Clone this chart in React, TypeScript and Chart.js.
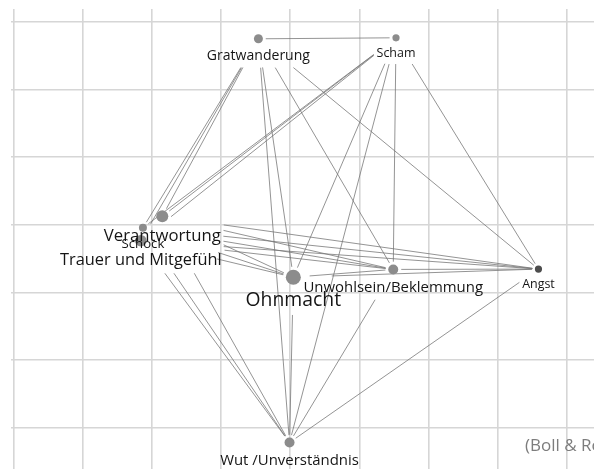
import React, { useEffect, useRef } from "react";
import { Chart, registerables } from "chart.js";

Chart.register(...registerables);

// Nodes (network coordinates in grid units)
const nodeLabels = [
  "Gratwanderung",
  "Scham",
  "Verantwortung",
  "Schock",
  "Trauer und Mitgefühl",
  "Ohnmacht",
  "Unwohlsein/Beklemmung",
  "Angst",
  "Wut /Unverständnis",
];
const nodeX = [3.54, 5.53, 2.15, 1.87, 1.84, 4.045, 5.49, 7.59, 3.99];
const nodeY = [0.25, 0.235, 2.875, 3.045, 3.235, 3.775, 3.66, 3.655, 6.22];
const nodeWeight = [4.5, 3.6, 6, 4, 5.8, 7.5, 5, 3.6, 5];

// Edges (index pairs)
const edgeFrom = [0, 0, 0, 0, 0, 0, 0, 0, 1, 1, 1, 1, 1, 1, 1, 2, 2, 2, 3, 3, 3, 4, 4, 4, 2, 3, 4, 5, 5, 5, 6, 6, 7];
const edgeTo =   [1, 2, 3, 4, 5, 8, 6, 7, 2, 3, 4, 5, 8, 6, 7, 5, 6, 7, 5, 6, 7, 5, 6, 7, 8, 8, 8, 6, 7, 8, 7, 8, 8];

const gridTicks = [0, 1, 2, 3, 4, 5, 6, 7, 8];
const sourceNote = "(Boll & Rothland)";

const FONT = "'Open Sans', 'Noto Sans', sans-serif";
const NODE_COLOR = "#8c8c8c";
const DARK_NODE = "#4d4d4d";
const LABEL_GAP = 6;

function fontSizeOf(i: number) {
  return 1.77 * nodeWeight[i] + 6.1;
}

const networkPlugin = {
  id: "network",
  beforeDatasetsDraw(chart: any) {
    const ctx: CanvasRenderingContext2D = chart.ctx;
    const xs = chart.scales.x;
    const ys = chart.scales.y;
    const shapes = nodeLabels.map((lab, i) => {
      const px = xs.getPixelForValue(nodeX[i]);
      const py = ys.getPixelForValue(nodeY[i]);
      const r = nodeWeight[i];
      const fs = fontSizeOf(i);
      ctx.font = `${fs}px ${FONT}`;
      const w = ctx.measureText(lab).width;
      const cy = py + r + fs / 2 + LABEL_GAP;
      return {
        px, py, r,
        x0: px - w / 2 - 3, x1: px + w / 2 + 3,
        y0: cy - fs * 0.6 - 3, y1: cy + fs * 0.6 + 3,
      };
    });
    const inside = (k: number, x: number, y: number) => {
      const s = shapes[k];
      const dx = x - s.px, dy = y - s.py;
      if (dx * dx + dy * dy <= (s.r + 3) * (s.r + 3)) return true;
      return x >= s.x0 && x <= s.x1 && y >= s.y0 && y <= s.y1;
    };
    const insideAny = (x: number, y: number) => {
      for (let k = 0; k < shapes.length; k++) if (inside(k, x, y)) return true;
      return false;
    };
    ctx.save();
    ctx.strokeStyle = "rgba(115,115,115,0.85)";
    ctx.lineWidth = 0.9;
    const N = 600;
    for (let e = 0; e < edgeFrom.length; e++) {
      const a = shapes[edgeFrom[e]], b = shapes[edgeTo[e]];
      const pt = (k: number) => [a.px + (b.px - a.px) * (k / N), a.py + (b.py - a.py) * (k / N)];
      let ks = 0;
      for (let k = 0; k <= N / 2; k++) {
        const [x, y] = pt(k);
        if (inside(edgeFrom[e], x, y)) ks = k;
      }
      while (ks < N / 2) {
        const [x, y] = pt(ks + 1);
        if (insideAny(x, y)) ks++; else break;
      }
      let ke = N;
      for (let k = N; k >= N / 2; k--) {
        const [x, y] = pt(k);
        if (inside(edgeTo[e], x, y)) ke = k;
      }
      while (ke > N / 2) {
        const [x, y] = pt(ke - 1);
        if (insideAny(x, y)) ke--; else break;
      }
      const [x0, y0] = pt(ks);
      const [x1, y1] = pt(ke);
      ctx.beginPath();
      ctx.moveTo(x0, y0);
      ctx.lineTo(x1, y1);
      ctx.stroke();
    }
    ctx.restore();
  },
  afterDatasetsDraw(chart: any) {
    const ctx: CanvasRenderingContext2D = chart.ctx;
    const meta = chart.getDatasetMeta(0);
    ctx.save();
    ctx.fillStyle = "#151515";
    ctx.textAlign = "center";
    ctx.textBaseline = "middle";
    nodeLabels.forEach((lab, i) => {
      const el = meta.data[i];
      const fs = fontSizeOf(i);
      ctx.font = `${fs}px ${FONT}`;
      ctx.fillText(lab, el.x, el.y + nodeWeight[i] + fs / 2 + LABEL_GAP);
    });
    ctx.fillStyle = "#7d7d7d";
    ctx.textAlign = "left";
    ctx.font = `17px ${FONT}`;
    ctx.fillText(sourceNote, 525, 446);
    ctx.restore();
  },
};

export default function App() {
  const ref = useRef<HTMLCanvasElement | null>(null);
  useEffect(() => {
    if (!ref.current) return;
    const setTicks = (s: any) => {
      s.ticks = gridTicks.map((v) => ({ value: v }));
    };
    const chart = new Chart(ref.current, {
      type: "scatter",
      data: {
        datasets: [
          {
            data: nodeX.map((x, i) => ({ x, y: nodeY[i] })),
            pointRadius: nodeWeight,
            pointHoverRadius: nodeWeight,
            pointBackgroundColor: nodeLabels.map((_, i) => (i === 7 ? DARK_NODE : NODE_COLOR)),
            pointBorderWidth: 0,
            showLine: false,
          },
        ],
      },
      options: {
        responsive: false,
        devicePixelRatio: 1,
        animation: false,
        layout: { autoPadding: false, padding: { left: 11, top: 9, right: 0, bottom: 0 } },
        plugins: { legend: { display: false }, tooltip: { enabled: false }, title: { display: false } },
        scales: {
          x: {
            type: "linear",
            min: -0.0376,
            max: 8.393,
            afterBuildTicks: setTicks,
            ticks: { display: false },
            border: { display: false },
            grid: { color: "#d6d6d6", lineWidth: 1.6, drawTicks: false },
          },
          y: {
            type: "linear",
            reverse: true,
            min: -0.1907,
            max: 6.611,
            afterBuildTicks: setTicks,
            ticks: { display: false },
            border: { display: false },
            grid: { color: "#d6d6d6", lineWidth: 1.6, drawTicks: false },
          },
        },
      },
      plugins: [networkPlugin],
    });
    return () => chart.destroy();
  }, []);
  return (
    <div style={{ position: "fixed", left: 0, top: 0, width: 594, height: 469, background: "#fff" }}>
      <canvas ref={ref} width={594} height={469} style={{ display: "block" }} />
    </div>
  );
}
